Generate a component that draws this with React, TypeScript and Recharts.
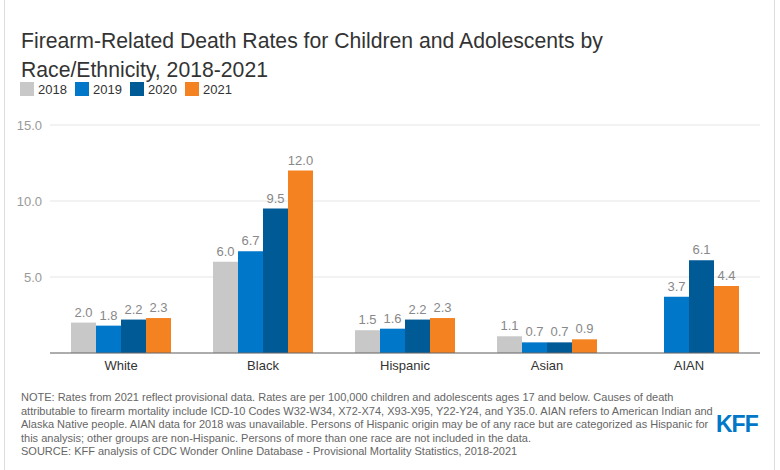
import { BarChart, Bar, XAxis, YAxis, CartesianGrid, LabelList } from "recharts";

const groups = ["White", "Black", "Hispanic", "Asian", "AIAN"];
const years = ["2018", "2019", "2020", "2021"];
const colors = ["#c8c8c8", "#0077c8", "#005a96", "#f58220"];
const rates2018 = [2.0, 6.0, 1.5, 1.1, null];
const rates2019 = [1.8, 6.7, 1.6, 0.7, 3.7];
const rates2020 = [2.2, 9.5, 2.2, 0.7, 6.1];
const rates2021 = [2.3, 12.0, 2.3, 0.9, 4.4];
const yTicks = [5, 10, 15];

const series = [rates2018, rates2019, rates2020, rates2021];
const data = groups.map((g, i) => {
  const row: Record<string, string | number | null> = { group: g };
  years.forEach((y, j) => {
    row[y] = series[j][i];
  });
  return row;
});

const fmt = (v: unknown) => (v == null ? "" : Number(v).toFixed(1));

export default function App() {
  return (
    <div
      style={{
        position: "absolute",
        left: 0,
        top: 0,
        width: 780,
        height: 470,
        background: "#fff",
        fontFamily: "'Liberation Sans', Arial, sans-serif",
      }}
    >
      <div
        style={{
          position: "absolute",
          left: 4,
          top: 0,
          width: 769,
          height: 470,
          borderLeft: "1px solid #ddd",
          borderRight: "1px solid #ddd",
        }}
      />
      <div
        style={{
          position: "absolute",
          left: 21,
          top: 26,
          fontSize: 21.2,
          lineHeight: "29px",
          color: "#333",
        }}
      >
        Firearm-Related Death Rates for Children and Adolescents by
        <br />
        Race/Ethnicity, 2018-2021
      </div>
      <div
        style={{
          position: "absolute",
          left: 20,
          top: 82,
          display: "flex",
          fontSize: 13,
          lineHeight: "13px",
          color: "#333",
        }}
      >
        {years.map((y, i) => (
          <div
            key={y}
            style={{ display: "flex", alignItems: "center", width: 55 }}
          >
            <span
              style={{
                width: 14,
                height: 14,
                background: colors[i],
                marginRight: 4,
                display: "inline-block",
              }}
            />
            {y}
          </div>
        ))}
      </div>
      <div style={{ position: "absolute", left: 0, top: 110 }}>
        <BarChart
          width={780}
          height={275}
          data={data}
          margin={{ top: 15, right: 20, left: 10, bottom: 2 }}
          barGap={0}
        >
          <CartesianGrid vertical={false} stroke="#e6e6e6" />
          <XAxis
            dataKey="group"
            tickLine={false}
            axisLine={{ stroke: "#666" }}
            tick={{ fill: "#333", fontSize: 13 }}
            height={30}
          />
          <YAxis
            domain={[0, 15]}
            ticks={yTicks}
            tickFormatter={(v) => Number(v).toFixed(1)}
            axisLine={false}
            tickLine={false}
            tick={{ fill: "#999", fontSize: 13 }}
            width={40}
          />
          {years.map((y, i) => (
            <Bar
              key={y}
              dataKey={y}
              fill={colors[i]}
              barSize={25}
              isAnimationActive={false}
            >
              <LabelList
                dataKey={y}
                position="top"
                offset={6}
                formatter={fmt}
                style={{ fill: "#888", fontSize: 13 }}
              />
            </Bar>
          ))}
        </BarChart>
      </div>
      <div
        style={{
          position: "absolute",
          left: 21,
          top: 391,
          width: 700,
          fontSize: 11,
          lineHeight: "13.5px",
          color: "#666",
          fontFamily: "'Liberation Sans Narrow', 'Arial Narrow', sans-serif",
        }}
      >
        NOTE: Rates from 2021 reflect provisional data. Rates are per 100,000
        children and adolescents ages 17 and below. Causes of death
        attributable to firearm mortality include ICD-10 Codes W32-W34,
        X72-X74, X93-X95, Y22-Y24, and Y35.0. AIAN refers to American Indian
        and Alaska Native people. AIAN data for 2018 was unavailable. Persons
        of Hispanic origin may be of any race but are categorized as Hispanic
        for this analysis; other groups are non-Hispanic. Persons of more than
        one race are not included in the data.
        <br />
        SOURCE: KFF analysis of CDC Wonder Online Database - Provisional
        Mortality Statistics, 2018-2021
      </div>
      <div
        style={{
          position: "absolute",
          left: 716,
          top: 413,
          fontSize: 23,
          lineHeight: "23px",
          fontWeight: 700,
          color: "#0077c8",
          letterSpacing: -1,
        }}
      >
        KFF
      </div>
    </div>
  );
}
